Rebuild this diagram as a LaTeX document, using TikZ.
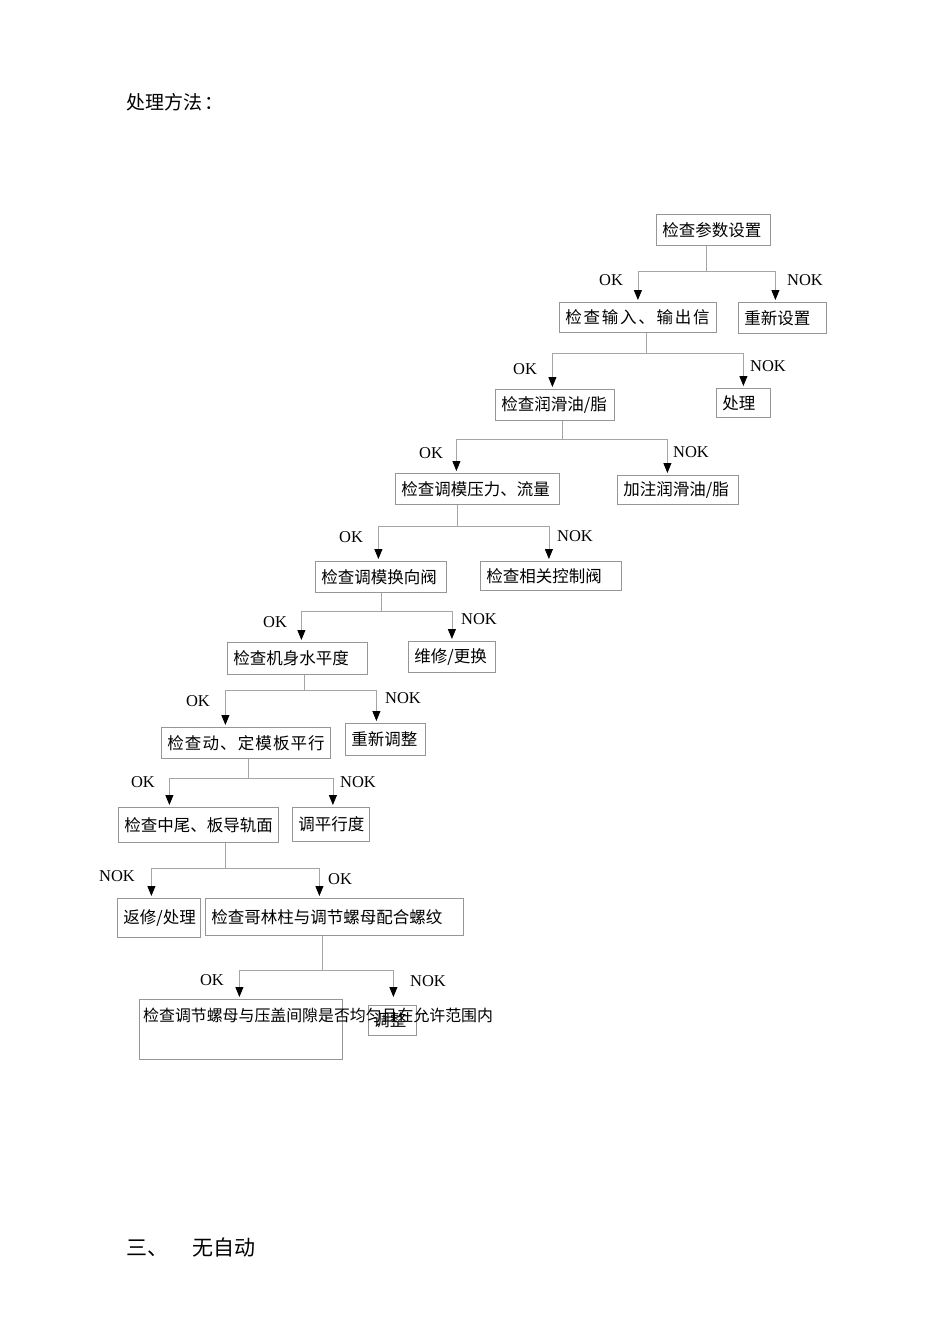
\documentclass[tikz,border=0pt]{standalone}
\usepackage{fontspec}
\setmainfont{Liberation Serif}
\newfontfamily\cjk{Noto Sans CJK SC}
\usetikzlibrary{arrows.meta}
\definecolor{linegray}{RGB}{165,165,165}
\definecolor{boxgray}{RGB}{150,150,150}
\tikzset{
  box/.style={draw=boxgray, line width=0.8pt, anchor=north west, inner xsep=6pt, inner ysep=0pt,
    align=left, font=\cjk\fontsize{16.5}{18}\selectfont},
  link/.style={draw=linegray, line width=0.8pt, -{Triangle[width=8pt,length=10pt,black]}, shorten >=2pt},
  tag/.style={inner sep=0pt, font=\fontsize{16.5}{18}\selectfont},
  heading/.style={anchor=west, inner sep=0pt, font=\cjk\fontsize{19}{22}\selectfont}
}
\begin{document}
\begin{tikzpicture}[x=1pt,y=-1pt]
            \useasboundingbox (0,0) rectangle (950,1344);

            \node[heading] (title) at (126,102) {处理方法\hspace{2pt}：};
            \node[heading, font=\cjk\fontsize{21}{24}\selectfont] (next) at (126,1247) {三、\hspace{24pt}无自动};

            \node[box, text width=102, minimum height=31] (b1) at (656,214) {检查参数设置};
            \node[box, text width=145, minimum height=30] (b2) at (559,302) {\addfontfeature{LetterSpace=10.6}检查输入、输出信};
            \node[box, text width=76, minimum height=31] (b3) at (738,302) {重新设置};
            \node[box, text width=107, minimum height=31] (b4) at (495,389) {检查润滑油/脂};
            \node[box, text width=42, minimum height=29] (b5) at (716,388) {处理};
            \node[box, text width=152, minimum height=31] (b6) at (395,473) {检查调模压力、流量};
            \node[box, text width=109, minimum height=29] (b7) at (617,475) {加注润滑油/脂};
            \node[box, text width=119, minimum height=31] (b8) at (315,561) {检查调模换向阀};
            \node[box, text width=129, minimum height=29] (b9) at (480,561) {检查相关控制阀};
            \node[box, text width=128, minimum height=32] (b10) at (227,642) {检查机身水平度};
            \node[box, text width=75, minimum height=31] (b11) at (408,641) {维修/更换};
            \node[box, text width=157, minimum height=31] (b12) at (161,727) {\addfontfeature{LetterSpace=6.7}检查动、定模板平行};
            \node[box, text width=68, minimum height=32] (b13) at (345,723) {重新调整};
            \node[box, text width=148, minimum height=35] (b14) at (118,807) {检查中尾、板导轨面};
            \node[box, text width=65, minimum height=34] (b15) at (292,807) {调平行度};
            \node[box, text width=71, minimum height=39] (b16) at (117,898) {返修/处理};
            \node[box, text width=246, minimum height=37] (b17) at (205,898) {检查哥林柱与调节螺母配合螺纹};
            \node[box, text width=191, minimum height=60] (b18) at (139,999) {};
            \node[box, text width=38, minimum height=30, inner xsep=5pt] (b19) at (368,1005) {调整};
            \node[tag, anchor=west, font=\cjk\fontsize{15.9}{18}\selectfont] (b18text) at (143,1015) {检查调节螺母与压盖间隙是否均匀且在允许范围内};

            % OK / NOK branches
            \draw[link] ([xshift=-7]b1.south) -- ++(0,26) -| (b2.north);
            \draw[link] ([xshift=-7]b1.south) -- ++(0,26) -| ([xshift=-7]b3.north);
            \draw[link] ([xshift=8]b2.south) -- ++(0,21) -| ([xshift=-2.5]b4.north);
            \draw[link] ([xshift=8]b2.south) -- ++(0,21) -| (b5.north);
            \draw[link] ([xshift=7]b4.south) -- ++(0,19) -| ([xshift=-21]b6.north);
            \draw[link] ([xshift=7]b4.south) -- ++(0,19) -| ([xshift=-10.5]b7.north);
            \draw[link] ([xshift=-20]b6.south) -- ++(0,22) -| ([xshift=-2.5]b8.north);
            \draw[link] ([xshift=-20]b6.south) -- ++(0,22) -| ([xshift=-2]b9.north);
            \draw[link] (b8.south) -- ++(0,19) -| ([xshift=4]b10.north);
            \draw[link] (b8.south) -- ++(0,19) -| (b11.north);
            \draw[link] ([xshift=7]b10.south) -- ++(0,16) -| ([xshift=-20.5]b12.north);
            \draw[link] ([xshift=7]b10.south) -- ++(0,16) -| ([xshift=-9]b13.north);
            \draw[link] ([xshift=2]b12.south) -- ++(0,20) -| ([xshift=-29]b14.north);
            \draw[link] ([xshift=2]b12.south) -- ++(0,20) -| ([xshift=2]b15.north);
            \draw[link] ([xshift=27]b14.south) -- ++(0,26) -| ([xshift=-7.5]b16.north);
            \draw[link] ([xshift=27]b14.south) -- ++(0,26) -| ([xshift=-15]b17.north);
            \draw[link] ([xshift=-12]b17.south) -- ++(0,35) -| ([xshift=-1.5]b18.north);
            \draw[link, shorten >=8pt] ([xshift=-12]b17.south) -- ++(0,35) -| ([xshift=1]b19.north);

            \node[tag] (ok1) at (611,280) {OK};
            \node[tag] (nok1) at (805,280) {NOK};
            \node[tag] (ok2) at (525,369) {OK};
            \node[tag] (nok2) at (768,366) {NOK};
            \node[tag] (ok3) at (431,453) {OK};
            \node[tag] (nok3) at (691,452) {NOK};
            \node[tag] (ok4) at (351,537) {OK};
            \node[tag] (nok4) at (575,536) {NOK};
            \node[tag] (ok5) at (275,622) {OK};
            \node[tag] (nok5) at (479,619) {NOK};
            \node[tag] (ok6) at (198,701) {OK};
            \node[tag] (nok6) at (403,698) {NOK};
            \node[tag] (ok7) at (143,782) {OK};
            \node[tag] (nok7) at (358,782) {NOK};
            \node[tag] (nok8) at (117,876) {NOK};
            \node[tag] (ok8) at (340,879) {OK};
            \node[tag] (ok9) at (212,980) {OK};
            \node[tag] (nok9) at (428,981) {NOK};
        \end{tikzpicture}
\end{document}
